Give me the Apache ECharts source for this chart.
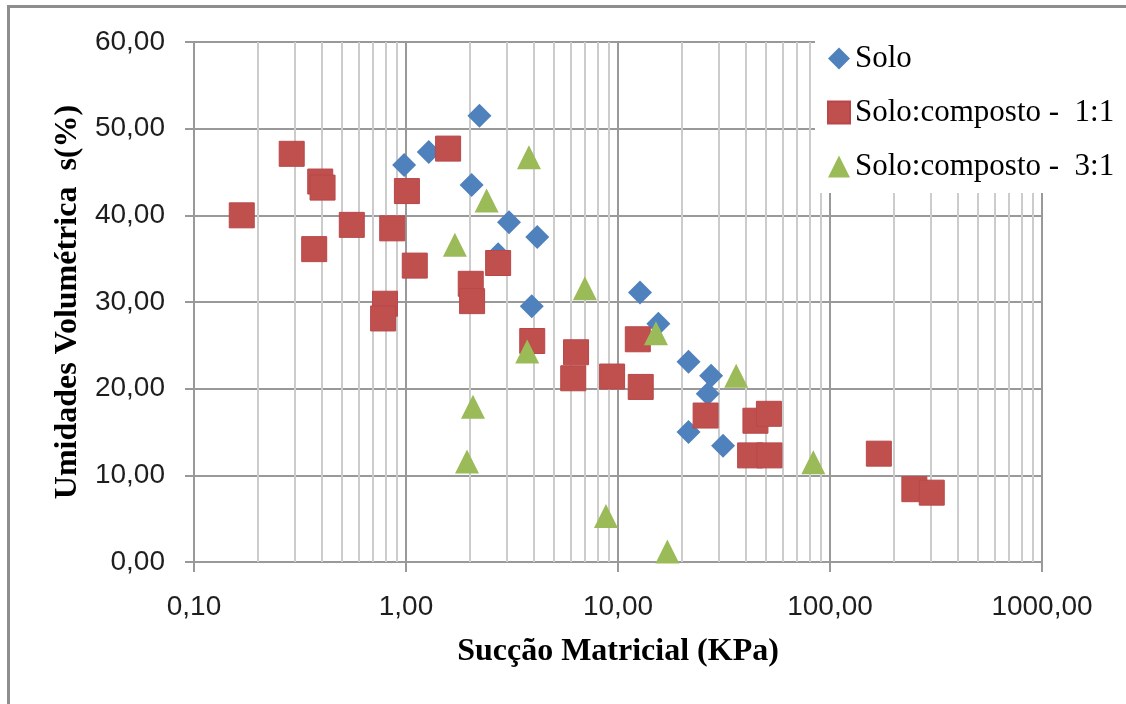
<!DOCTYPE html>
<html>
<head>
<meta charset="utf-8">
<script src="https://cdn.jsdelivr.net/npm/echarts@6/dist/echarts.min.js"></script>
<style>
  html, body { margin: 0; padding: 0; background: #fff; }
  #chart { position: absolute; left: 0; top: 0; width: 1126px; height: 704px; }
  #frame { position: absolute; left: 7px; top: 5px; width: 1200px; height: 800px;
           border-left: 3px solid #8e8e8e; border-top: 3px solid #8e8e8e; pointer-events: none; }
</style>
</head>
<body>
<div id="chart"></div>
<div id="frame"></div>
<script>
// ---- data ----
const seriesNames = ['Solo', 'Solo:composto -  1:1', 'Solo:composto -  3:1'];

const soloX = [0.98, 1.28, 2.22, 2.04, 3.06, 4.16, 2.72, 3.92, 12.7, 15.5, 21.5, 27.5, 26.5, 21.5, 31.3];
const soloY = [45.8, 47.3, 51.5, 43.5, 39.2, 37.5, 35.5, 29.5, 31.1, 27.5, 23.1, 21.5, 19.4, 15.0, 13.4];

const c11X = [0.168, 0.289, 0.394, 0.404, 0.555, 0.369, 0.861, 1.58, 1.01, 1.10, 2.02, 2.05, 0.796, 0.78, 2.72,
              3.94, 6.34, 6.15, 9.38, 12.8, 12.4, 25.9, 44.5, 51.5, 42.0, 51.8, 170, 250, 302];
const c11Y = [40.0, 47.1, 43.9, 43.2, 38.9, 36.1, 38.5, 47.7, 42.8, 34.2, 32.1, 30.1, 29.8, 28.1, 34.5,
              25.5, 24.2, 21.2, 21.4, 20.2, 25.7, 16.9, 16.3, 17.1, 12.3, 12.3, 12.5, 8.4, 8.0];

const c31X = [3.80, 2.40, 1.70, 6.98, 3.73, 2.07, 1.94, 8.77, 15.1, 36.1, 83.4, 17.1];
const c31Y = [46.7, 41.7, 36.6, 31.6, 24.3, 17.9, 11.6, 5.3, 26.4, 21.5, 11.5, 1.2];

const xDecades = [0.1, 1, 10, 100, 1000];
const xTickLabels = ['0,10', '1,00', '10,00', '100,00', '1000,00'];
const yTickLabels = ['0,00', '10,00', '20,00', '30,00', '40,00', '50,00', '60,00'];

const xTitle = 'Sucção Matricial (KPa)';
const yTitle = 'Umidades Volumétrica  s(%)';

// ---- build ----
const pairs = (xs, ys) => xs.map((x, i) => [x, ys[i]]);

const minorValues = [];
for (let d = 0; d < xDecades.length - 1; d++) {
  for (let k = 2; k <= 9; k++) minorValues.push(+(xDecades[d] * k).toPrecision(6));
}

const chart = echarts.init(document.getElementById('chart'), null, { renderer: 'canvas' });

const labelFont = { fontFamily: 'Liberation Sans, Arial, sans-serif', fontSize: 28, color: '#1e1e1e' };
const nameFont = { fontFamily: 'Liberation Serif, Times New Roman, serif', fontSize: 32, fontWeight: 'bold', color: '#000' };

chart.setOption({
  animation: false,
  grid: { left: 194, right: 84, top: 42, bottom: 142, containLabel: false },
  legend: {
    orient: 'vertical',
    left: 815, top: 35,
    padding: [8, 10, 11, 12],
    backgroundColor: '#ffffff',
    itemGap: 23,
    itemWidth: 22, itemHeight: 22,
    textStyle: { fontFamily: 'Liberation Serif, Times New Roman, serif', fontSize: 31, color: '#000' },
    data: [
      { name: seriesNames[0], icon: 'diamond' },
      { name: seriesNames[1], icon: 'rect' },
      { name: seriesNames[2], icon: 'triangle' }
    ],
    z: 10
  },
  xAxis: {
    type: 'log', logBase: 10, min: 0.1, max: 1000,
    name: xTitle, nameLocation: 'middle', nameGap: 74, nameTextStyle: nameFont,
    axisLine: { show: true, lineStyle: { color: '#999', width: 2 } },
    axisTick: { show: true, length: 10, lineStyle: { color: '#999', width: 2 } },
    axisLabel: Object.assign({ margin: 31, formatter: v => {
      const i = xDecades.findIndex(d => Math.abs(Math.log10(d) - Math.log10(v)) < 1e-6);
      return i >= 0 ? xTickLabels[i] : '';
    } }, labelFont),
    splitLine: { show: true, lineStyle: { color: '#999', width: 2 } }
  },
  yAxis: {
    type: 'value', min: 0, max: 60, interval: 10,
    name: yTitle, nameLocation: 'middle', nameGap: 108, nameRotate: 90, nameTextStyle: nameFont,
    axisLine: { show: true, lineStyle: { color: '#999', width: 2 } },
    axisTick: { show: true, length: 9, lineStyle: { color: '#999', width: 2 } },
    axisLabel: Object.assign({ margin: 29, formatter: v => yTickLabels[Math.round(v / 10)] }, labelFont),
    splitLine: { show: true, lineStyle: { color: '#999', width: 2 } }
  },
  series: [
    {
      name: 'minorGrid', type: 'scatter', data: [], silent: true, z: 1,
      markLine: {
        silent: true, z: 1, symbol: ['none', 'none'], label: { show: false },
        lineStyle: { color: '#cccccc', width: 2, type: 'solid' },
        emphasis: { disabled: true },
        animation: false,
        data: minorValues.map(v => ({ xAxis: v }))
      }
    },
    {
      name: seriesNames[0], type: 'scatter', symbol: 'diamond', symbolSize: 24, z: 3,
      itemStyle: { color: '#4F81BD', opacity: 1 },
      data: pairs(soloX, soloY)
    },
    {
      name: seriesNames[1], type: 'scatter', symbol: 'rect', symbolSize: 25, z: 4,
      itemStyle: { color: '#C0504D', opacity: 1, borderColor: '#B9474A', borderWidth: 1 },
      data: pairs(c11X, c11Y)
    },
    {
      name: seriesNames[2], type: 'scatter', symbol: 'triangle', symbolSize: 24, z: 5,
      itemStyle: { color: '#9BBB59', opacity: 1 },
      data: pairs(c31X, c31Y)
    }
  ]
});
</script>
</body>
</html>
